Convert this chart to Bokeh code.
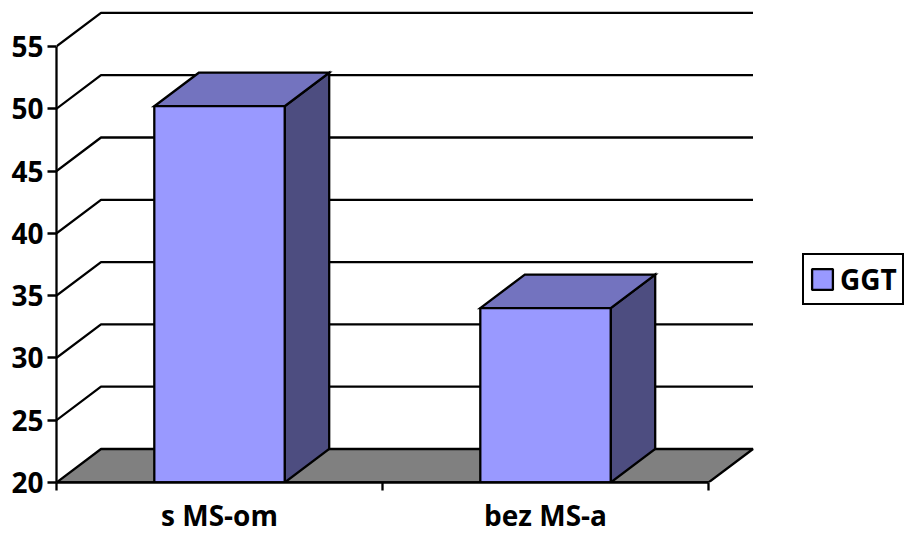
from bokeh.plotting import figure
from bokeh.models import Range1d, FixedTicker, Legend, LegendItem
from bokeh.embed import file_html
from bokeh.resources import INLINE

categories = ["s MS-om", "bez MS-a"]
series_name = "GGT"
ggt_values = [50.2, 34.0]
y_ticks = [20, 25, 30, 35, 40, 45, 50, 55]

FONT = "Open Sans"
FS = "28px"
BAR_W = 0.4
DEPTH_X = 44.5 / 326
DEPTH_Y = 33.5 / 62.3 * 5
FRONT, TOP, SIDE, FLOOR = "#9999FF", "#7373BF", "#4D4D80", "#808080"
LW = 2.3

Y0 = y_ticks[0]
n = len(categories)
p = figure(width=905, height=536, output_backend="svg", toolbar_location=None,
           x_range=Range1d(0, 849 / 326), y_range=Range1d(Y0, Y0 + 482 / 62.3 * 5),
           min_border_left=56, min_border_right=0, min_border_top=0, min_border_bottom=54,
           x_axis_location="below", y_axis_location="left")
p.grid.visible = False
p.outline_line_color = None
p.background_fill_color = "white"
p.border_fill_color = "white"

# floor
p.patch([0, DEPTH_X, n + DEPTH_X, n], [Y0, Y0 + DEPTH_Y, Y0 + DEPTH_Y, Y0],
        fill_color=FLOOR, line_color="black", line_width=LW)
# back-wall gridlines with their side-wall slants
for t in y_ticks[1:]:
    p.line([0, DEPTH_X, n + DEPTH_X], [t, t + DEPTH_Y, t + DEPTH_Y], line_color="black", line_width=LW)

# bars
legend_renderer = None
for i, v in enumerate(ggt_values):
    x0 = i + 0.5 - BAR_W / 2
    x1 = i + 0.5 + BAR_W / 2
    p.patch([x1, x1 + DEPTH_X, x1 + DEPTH_X, x1], [Y0, Y0 + DEPTH_Y, v + DEPTH_Y, v],
            fill_color=SIDE, line_color="black", line_width=LW, line_join="miter")
    p.patch([x0, x0 + DEPTH_X, x1 + DEPTH_X, x1], [v, v + DEPTH_Y, v + DEPTH_Y, v],
            fill_color=TOP, line_color="black", line_width=LW, line_join="miter")
    r = p.quad(left=[x0], right=[x1], bottom=[Y0], top=[v],
               fill_color=FRONT, line_color="black", line_width=LW)
    if legend_renderer is None:
        legend_renderer = r

# axes
xa = p.xaxis[0]
xa.ticker = FixedTicker(ticks=[i + 0.5 for i in range(n)], minor_ticks=list(range(n + 1)))
xa.major_label_overrides = {i + 0.5: c for i, c in enumerate(categories)}
xa.major_tick_out = 0
xa.major_tick_in = 0
xa.minor_tick_out = 8
xa.minor_tick_in = 0
xa.minor_tick_line_color = "black"
xa.minor_tick_line_width = LW
xa.axis_line_color = "black"
xa.axis_line_width = LW
xa.bounds = (0, n)
xa.major_label_standoff = 5
xa.major_label_text_line_height = 0.7
xa.major_label_text_font = FONT
xa.major_label_text_font_style = "bold"
xa.major_label_text_font_size = FS
xa.major_label_text_color = "black"

ya = p.yaxis[0]
ya.ticker = FixedTicker(ticks=y_ticks, minor_ticks=[])
ya.bounds = (y_ticks[0], y_ticks[-1])
ya.major_tick_out = 9
ya.major_tick_in = 0
ya.major_tick_line_color = "black"
ya.major_tick_line_width = LW
ya.axis_line_color = "black"
ya.axis_line_width = LW
ya.major_label_standoff = 4
ya.major_label_text_font = FONT
ya.major_label_text_font_style = "bold"
ya.major_label_text_font_size = FS
ya.major_label_text_color = "black"

legend = Legend(items=[LegendItem(label=series_name, renderers=[legend_renderer])],
                location=(746, 177), orientation="vertical",
                glyph_width=26, glyph_height=26, label_standoff=5,
                padding=5, margin=0, spacing=0,
                border_line_color="black", border_line_width=LW, border_line_alpha=1,
                background_fill_color="white", background_fill_alpha=1,
                label_text_font=FONT, label_text_font_style="bold",
                label_text_line_height=0.7,
                label_text_font_size=FS, label_text_color="black")
p.add_layout(legend)

open("out.html", "w").write(file_html(p, INLINE))
